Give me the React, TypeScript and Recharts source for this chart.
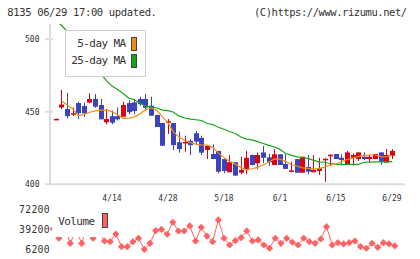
import React from "react";
import { ComposedChart, Bar, Line, XAxis, YAxis, Legend } from "recharts";

// trading days, 2020
const dates = [
  "3/31", "4/1", "4/2", "4/3", "4/6", "4/7", "4/8", "4/9", "4/10", "4/13",
  "4/14", "4/15", "4/16", "4/17", "4/20", "4/21", "4/22", "4/23", "4/24", "4/27",
  "4/28", "4/30", "5/1", "5/7", "5/8", "5/11", "5/12", "5/13", "5/14", "5/15",
  "5/18", "5/19", "5/20", "5/21", "5/22", "5/25", "5/26", "5/27", "5/28", "5/29",
  "6/1", "6/2", "6/3", "6/4", "6/5", "6/8", "6/9", "6/10", "6/11", "6/12",
  "6/15", "6/16", "6/17", "6/18", "6/19", "6/22", "6/23", "6/24", "6/25", "6/26",
  "6/29",
];
const labelDates = ["4/14", "4/28", "5/18", "6/1", "6/15", "6/29"];

const open = [
  445, 453, 452, 448.5, 456, 454, 456.3, 458.8, 454.7, 442.8,
  447, 447, 446.6, 456, 456.5, 458.8, 458.8, 454.2, 447.8, 442.3,
  443, 442.3, 429, 428.8, 430, 435.2, 432, 423.7, 420.9, 423,
  417.4, 408.3, 415.2, 408, 410.6, 420.2, 414.5, 422, 418.6, 413.3,
  420.7, 414, 409.2, 417.4, 408, 412, 408.3, 409.2, 417.2, 420,
  420.9, 418.3, 413.8, 418.3, 417.4, 419, 417.4, 417.4, 422, 415,
  419.7,
];
const high = [
  445.3, 465, 463, 453, 457, 456.5, 462.7, 462.3, 458.8, 452,
  451, 453, 457, 458, 458.8, 460.4, 462.3, 460.4, 448, 442.3,
  445, 442.3, 436.3, 433.5, 431.2, 436.8, 433.5, 426.4, 427.6, 423,
  417.4, 420.2, 415.2, 419, 423, 420.5, 422, 426.4, 421, 424.3,
  420.7, 420.7, 415.6, 417.4, 419, 420.2, 420.2, 418.3, 418.3, 420.7,
  420.9, 420.7, 423, 421.4, 422, 422, 420.2, 420.9, 422, 424.3,
  424.3,
];
const low = [
  444.9, 452, 445.5, 447, 445, 446.5, 455.9, 452.8, 444.8, 441.4,
  441.4, 444, 446.6, 448.3, 448.3, 454.2, 451, 447.3, 439.5, 426.6,
  434.7, 423.6, 421.8, 422.5, 420.2, 427, 420.2, 417.4, 417.4, 407.6,
  407.6, 408.3, 406, 406.9, 406.9, 413, 410.6, 414.5, 412.6, 413.3,
  413.3, 410.6, 408.3, 408, 408, 406.9, 408.3, 406.4, 401.8, 412.6,
  417.4, 412.9, 413.8, 412.9, 416, 416.8, 415.2, 417.4, 413.3, 415,
  417.4,
];
const close = [
  445.1, 455, 447, 449, 449, 449, 458.8, 453.5, 444.8, 445,
  442.5, 444.8, 454.7, 449.7, 450.5, 455.2, 452.8, 447.3, 439.5, 426.6,
  443.5, 427, 424.3, 429.2, 427, 429.4, 421.8, 426.4, 417.4, 408.7,
  409.2, 415.2, 406, 409.9, 418.3, 413.3, 420.2, 418.3, 415.2, 420.7,
  413.3, 410.6, 409.6, 408, 419, 408.7, 409.9, 411, 417.6, 420.4,
  417.4, 416.8, 422, 420.2, 422, 417.4, 419, 420.9, 415.6, 420.2,
  423,
];
const ma5 = [
  null, 457.4, 454.7, 451.9, 447.4, 448.1, 449.7, 450.6, 451.2, 451.2,
  450.1, 448, 445.5, 445.7, 446.5, 448.5, 451.5, 452.6, 451, 446.5,
  442.4, 436, 432.5, 430.2, 428.7, 427.7, 427.1, 427, 425.5, 421.5,
  418.4, 415.8, 414, 411.5, 410, 410.7, 411.7, 413.3, 415.4, 417.5,
  417.3, 415.8, 413.5, 412.6, 411.3, 411, 410.7, 410.8, 412, 413.4,
  414, 415.6, 417.1, 418, 419.3, 419.8, 420.2, 420.2, 419, 419,
  420,
];
const ma25 = [
  513.5, 509.5, 505.4, 499.9, 495.1, 490.4, 485.7, 481, 476.2, 471.5,
  467.7, 465.3, 462.6, 459.4, 458.3, 455.9, 454.1, 453.3, 452.6, 451.2,
  450.8, 449.7, 447, 445.7, 445, 444.5, 444, 441.9, 441.2, 439.3,
  438, 436.4, 435, 432.6, 431.2, 430.6, 429.4, 428.1, 426.8, 425.7,
  424.1, 421.2, 420.1, 418.9, 418.3, 417.9, 416.5, 415.5, 415.2, 414.2,
  413.8, 413.8, 413.8, 413.8, 413.8, 415.2, 415.3, 415.4, 415.4, 415.5,
  415.6,
];
const volume = [
  40000, 24400, 42000, 16100, 38000, 16100, 45000, 24400, 36000, 19900,
  18700, 31400, 10500, 10500, 18700, 24400, 6200, 16100, 36900, 39200,
  31000, 50800, 36400, 36400, 44700, 19900, 42500, 28000, 18700, 54600,
  24400, 13300, 20500, 25400, 36400, 19900, 21600, 13300, 7900, 24400,
  16100, 24400, 17800, 13300, 24400, 18700, 16100, 23200, 43500, 13300,
  17100, 15000, 17100, 19900, 10500, 7900, 16100, 9500, 17100, 15000,
  11700,
];
const priceTicks = [400, 450, 500];
const volumeTicks = [6200, 39200, 72200];

const data = dates.map((date, i) => ({
  date,
  open: open[i],
  high: high[i],
  low: low[i],
  close: close[i],
  ma5: ma5[i],
  ma25: ma25[i],
  volume: volume[i],
}));

const FONT = "'DejaVu Sans Mono', monospace";
const AXIS = "#dcdcdc";
const RED = "#dd0010";
const BLUE = "#3c44bc";
const ORANGE = "#f08c18";
const GREEN = "#14a814";
const SALMON = "#ff6262";
const PAD = { left: 3.2, right: 10.2 };

const Candle = (props: any) => {
  const { x, y, width, height, payload } = props;
  const top = Math.min(y, y + height);
  const bottom = Math.max(y, y + height);
  const range = payload.high - payload.low;
  const ratio = range > 0 ? (bottom - top) / range : 0;
  const cx = Math.round(x + width / 2) + 0.5;
  const yo = top + (payload.high - payload.open) * ratio;
  const yc = top + (payload.high - payload.close) * ratio;
  const color = payload.close >= payload.open ? RED : BLUE;
  const bodyTop = Math.min(yo, yc);
  const bodyH = Math.max(Math.abs(yo - yc), 1.5);
  return (
    <g>
      <line x1={cx} x2={cx} y1={top} y2={bottom} stroke={color} strokeWidth={1} />
      <rect x={cx - 2.5} y={bodyTop} width={5} height={bodyH} fill={color} />
    </g>
  );
};

const GridTick = (props: any) => {
  const { x, y } = props;
  return <line x1={x} x2={x} y1={y - 3.3} y2={y + 4.7} stroke={AXIS} strokeWidth={2} />;
};

const PriceTick = (props: any) => {
  const { x, y, payload } = props;
  return (
    <g>
      <line x1={x - 5} x2={payload.value === 400 ? x : x + 3} y1={y} y2={y} stroke={AXIS} strokeWidth={2} />
      <text x={39.5} y={y} dy={3} textAnchor="end" fontSize={8} fill="#333" fontFamily={FONT}>
        {payload.value}
      </text>
    </g>
  );
};

const VolumeTick = (props: any) => {
  const { y, payload } = props;
  return (
    <text x={50} y={y} dy={3.4} textAnchor="end" fontSize={9.8} letterSpacing={0.3} fill="#333" fontFamily={FONT}>
      {payload.value}
    </text>
  );
};

const Diamond = (props: any) => {
  const { cx, cy, index } = props;
  if (cx == null || cy == null) return <g key={index} />;
  return (
    <path
      key={index}
      d={`M${cx},${cy - 3.6}L${cx + 3.6},${cy}L${cx},${cy + 3.6}L${cx - 3.6},${cy}Z`}
      fill={SALMON}
    />
  );
};

const legendText: React.CSSProperties = {
  position: "absolute",
  fontFamily: FONT,
  fontSize: 11,
  letterSpacing: -0.6,
  color: "#333",
  lineHeight: "12px",
  whiteSpace: "nowrap",
};

const swatch = (color: string): React.CSSProperties => ({
  position: "absolute",
  width: 6.5,
  height: 14.4,
  background: color,
  border: "1px solid #444",
  boxSizing: "border-box",
});

const MaLegend = () => (
  <div style={{ position: "relative", width: 81, height: 47, background: "#fff", border: "1.5px solid #cfcfcf", boxSizing: "border-box" }}>
    <span style={{ ...legendText, right: 19.5, top: 7 }}>5-day MA</span>
    <span style={{ ...swatch(ORANGE), left: 64.5, top: 5.8 }} />
    <span style={{ ...legendText, right: 19.5, top: 24.2 }}>25-day MA</span>
    <span style={{ ...swatch(GREEN), left: 64.5, top: 22.8 }} />
  </div>
);

const VolumeLegend = () => (
  <div style={{ position: "relative", width: 60, height: 31.5, background: "#fff" }}>
    <span style={{ ...legendText, left: 6.3, top: 11.3 }}>Volume</span>
    <span style={{ ...swatch(SALMON), left: 49.7, top: 7.7, height: 15.6, width: 6.6 }} />
  </div>
);

export default function App() {
  return (
    <div style={{ position: "absolute", left: 0, top: 0, width: 420, height: 259, background: "#fff", fontFamily: FONT }}>
      <div style={{ position: "absolute", left: 7.3, top: 6, fontSize: 10.5, letterSpacing: -0.35, color: "#333", lineHeight: "13px", whiteSpace: "nowrap" }}>
        8135 06/29 17:00 updated.
      </div>
      <div style={{ position: "absolute", left: 254, top: 6, fontSize: 10.5, letterSpacing: -0.45, color: "#333", lineHeight: "13px", whiteSpace: "nowrap" }}>
        (C)https://www.rizumu.net/
      </div>

      <div style={{ position: "absolute", left: 0, top: 0 }}>
        <ComposedChart width={420} height={206} data={data} margin={{ top: 24, right: 15, bottom: 0, left: 0 }}>
          <XAxis
            xAxisId="grid"
            type="number"
            domain={[0, 11]}
            ticks={[0, 1, 2, 3, 4, 5, 6, 7, 8, 9, 10, 11]}
            interval={0}
            height={0}
            axisLine={false}
            tickLine={false}
            tickSize={0}
            tickMargin={0}
            tick={<GridTick />}
          />
          <XAxis
            dataKey="date"
            height={21.7}
            padding={PAD}
            ticks={labelDates}
            interval={0}
            axisLine={{ stroke: AXIS, strokeWidth: 2 }}
            tickLine={false}
            tickSize={0}
            tickMargin={10.6}
            tick={{ fontSize: 8, fill: "#333", fontFamily: FONT }}
          />
          <YAxis
            width={50}
            domain={[400, 510.55]}
            allowDataOverflow
            ticks={priceTicks}
            interval={0}
            axisLine={{ stroke: AXIS, strokeWidth: 2 }}
            tickLine={false}
            tickSize={0}
            tickMargin={0}
            tick={<PriceTick />}
          />
          <Legend
            layout="horizontal"
            verticalAlign="middle"
            align="center"
            wrapperStyle={{ left: 65, top: 30, width: 81, height: 47 }}
            content={<MaLegend />}
          />
          <Bar dataKey={(d: any) => [d.low, d.high]} barSize={5} shape={<Candle />} isAnimationActive={false} />
          <Line dataKey="ma25" stroke={GREEN} strokeWidth={1.2} dot={false} isAnimationActive={false} />
          <Line dataKey="ma5" stroke={ORANGE} strokeWidth={1.2} dot={false} isAnimationActive={false} />
        </ComposedChart>
      </div>

      <div style={{ position: "absolute", left: 0, top: 200 }}>
        <ComposedChart width={420} height={59} data={data} margin={{ top: 9.3, right: 15, bottom: 9.7, left: 0 }}>
          <XAxis dataKey="date" hide padding={PAD} />
          <YAxis
            width={50}
            domain={[6200, 72200]}
            ticks={volumeTicks}
            interval={0}
            axisLine={false}
            tickLine={false}
            tickSize={0}
            tickMargin={0}
            tick={<VolumeTick />}
          />
          <Legend
            layout="horizontal"
            verticalAlign="middle"
            align="center"
            wrapperStyle={{ left: 52, top: 5, width: 60, height: 31.5 }}
            content={<VolumeLegend />}
          />
          <Line dataKey="volume" stroke={SALMON} strokeWidth={1} dot={<Diamond />} isAnimationActive={false} />
        </ComposedChart>
      </div>
    </div>
  );
}
